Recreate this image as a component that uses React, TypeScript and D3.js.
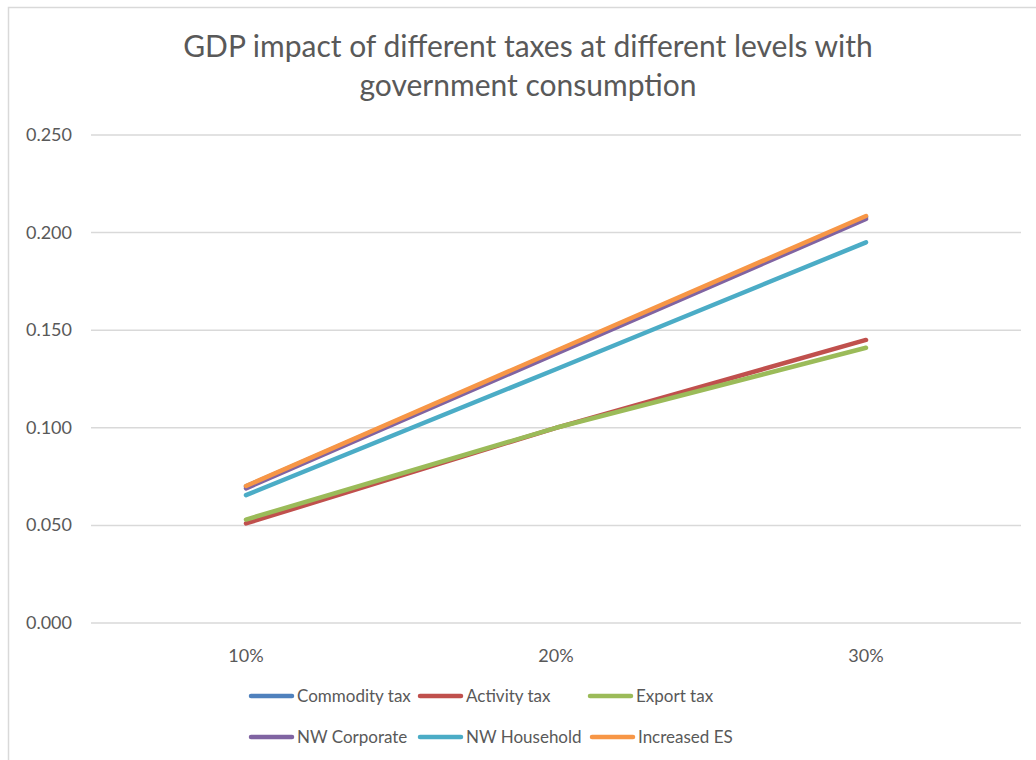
import React from "react";
import * as d3 from "d3";

const categories = ["10%", "20%", "30%"];
const seriesNames = ["Commodity tax", "Activity tax", "Export tax", "NW Corporate", "NW Household", "Increased ES"];
const seriesColors = ["#4F81BD", "#C0504D", "#9BBB59", "#8064A2", "#4BACC6", "#F79646"];
const commodityTax = [0.070, 0.139, 0.208];
const activityTax = [0.051, 0.100, 0.145];
const exportTax = [0.053, 0.100, 0.141];
const nwCorporate = [0.069, 0.138, 0.207];
const nwHousehold = [0.0655, 0.130, 0.195];
const increasedES = [0.0702, 0.1395, 0.2085];
const yTicks = [0, 0.05, 0.1, 0.15, 0.2, 0.25];
const titleLines = ["GDP impact of different taxes at different levels with", "government consumption"];

const seriesValues = [commodityTax, activityTax, exportTax, nwCorporate, nwHousehold, increasedES];

const W = 1036;
const H = 760;
const FONT = "Lato, 'Open Sans', sans-serif";
const TEXT = "#595959";

export default function App() {
  const plot = { left: 91, right: 1021, top: 135, bottom: 623 };
  const x = d3.scaleBand<string>().domain(categories).range([plot.left, plot.right]);
  const y = d3.scaleLinear().domain([0, 0.25]).range([plot.bottom, plot.top]);
  const line = d3
    .line<number>()
    .x((_, i) => (x(categories[i]) as number) + x.bandwidth() / 2)
    .y((d) => y(d));

  const legendCols = [
    [249, 418, 588],
    [249, 418, 590],
  ];
  const legendRows = [696, 737];

  return (
    <svg width={W} height={H} style={{ position: "absolute", left: 0, top: 0, background: "#fff" }} fontFamily={FONT}>
      <rect x={0} y={0} width={W} height={H} fill="#fff" />
      <rect x={8.5} y={7.5} width={1100} height={900} fill="none" stroke="#d9d9d9" strokeWidth={1.5} />
      {titleLines.map((t, i) => (
        <text key={i} x={528} y={57 + i * 39} textAnchor="middle" fontSize={30} fill={TEXT}>
          {t}
        </text>
      ))}
      {yTicks.map((t) => (
        <g key={t}>
          <line x1={plot.left} x2={plot.right} y1={y(t)} y2={y(t)} stroke="#d9d9d9" strokeWidth={1.5} />
          <text x={72} y={y(t) + 6} textAnchor="end" fontSize={18} fill={TEXT}>
            {d3.format(".3f")(t)}
          </text>
        </g>
      ))}
      {categories.map((c) => (
        <text key={c} x={(x(c) as number) + x.bandwidth() / 2} y={662} textAnchor="middle" fontSize={18} fill={TEXT}>
          {c}
        </text>
      ))}
      {seriesValues.map((vals, i) => (
        <path
          key={seriesNames[i]}
          d={line(vals) || ""}
          fill="none"
          stroke={seriesColors[i]}
          strokeWidth={4.5}
          strokeLinecap="round"
          strokeLinejoin="round"
        />
      ))}
      {seriesNames.map((name, i) => {
        const row = Math.floor(i / 3);
        const lx = legendCols[row][i % 3];
        const ly = legendRows[row];
        return (
          <g key={name}>
            <line x1={lx + 2} x2={lx + 43} y1={ly} y2={ly} stroke={seriesColors[i]} strokeWidth={4.5} strokeLinecap="round" />
            <text x={lx + 48} y={ly + 6} fontSize={17} fill={TEXT}>
              {name}
            </text>
          </g>
        );
      })}
    </svg>
  );
}
